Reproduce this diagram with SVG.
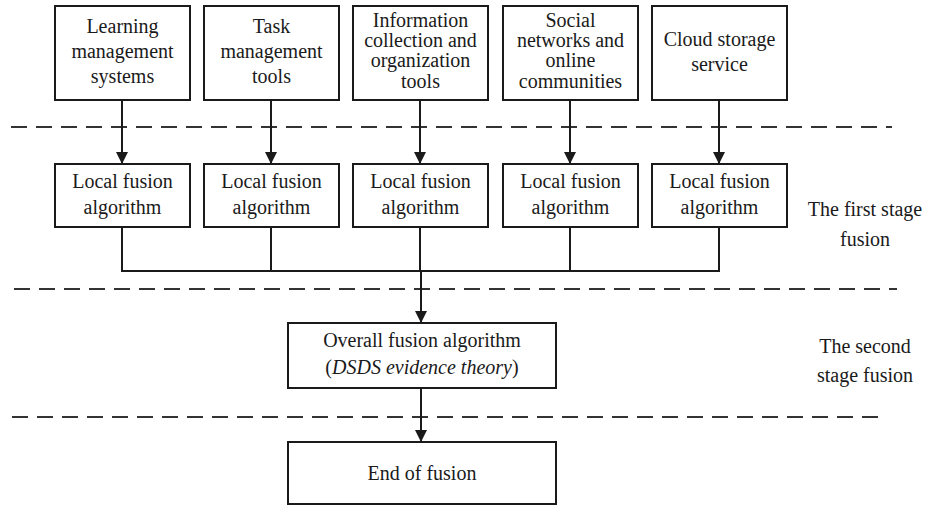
<svg xmlns="http://www.w3.org/2000/svg" width="925" height="506" viewBox="0 0 925 506">
<style>
.box{fill:#fff;stroke:#1a1a1a;stroke-width:2}
.t{font-family:"Liberation Serif","Times New Roman",serif;font-size:20px;fill:#1a1a1a;text-anchor:middle}
.ln{fill:none;stroke:#1a1a1a;stroke-width:2}
.dash{fill:none;stroke:#333;stroke-width:2;stroke-dasharray:16 9}
</style>
<defs>
<marker id="ah" markerUnits="userSpaceOnUse" markerWidth="14" markerHeight="14" refX="12" refY="6" orient="auto">
<path d="M0,0 L12,6 L0,12 Z" fill="#1a1a1a"/>
</marker>
</defs>
<g id="separators">
<line class="dash" x1="11" y1="127" x2="892" y2="127"/>
<line class="dash" x1="14" y1="289" x2="897" y2="289"/>
<line class="dash" x1="12" y1="417" x2="883" y2="417"/>
</g>
<g id="connectors">
<line class="ln" x1="122" y1="100" x2="122" y2="164" marker-end="url(#ah)"/>
<line class="ln" x1="271" y1="100" x2="271" y2="164" marker-end="url(#ah)"/>
<line class="ln" x1="420" y1="100" x2="420" y2="164" marker-end="url(#ah)"/>
<line class="ln" x1="570" y1="100" x2="570" y2="164" marker-end="url(#ah)"/>
<line class="ln" x1="719" y1="100" x2="719" y2="164" marker-end="url(#ah)"/>
<line class="ln" x1="122" y1="227" x2="122" y2="271"/>
<line class="ln" x1="271" y1="227" x2="271" y2="271"/>
<line class="ln" x1="420" y1="227" x2="420" y2="271"/>
<line class="ln" x1="570" y1="227" x2="570" y2="271"/>
<line class="ln" x1="719" y1="227" x2="719" y2="271"/>
<line class="ln" x1="121" y1="271" x2="720" y2="271"/>
<line class="ln" x1="421" y1="271" x2="421" y2="323" marker-end="url(#ah)"/>
<line class="ln" x1="421" y1="388" x2="421" y2="442" marker-end="url(#ah)"/>
</g>
<g id="src1"><rect class="box" x="55" y="6" width="135" height="94"/>
<text class="t" x="122.5" y="33">Learning</text><text class="t" x="122.5" y="58">management</text><text class="t" x="122.5" y="83">systems</text></g>
<g id="src2"><rect class="box" x="204" y="6" width="135" height="94"/>
<text class="t" x="271.5" y="33">Task</text><text class="t" x="271.5" y="58">management</text><text class="t" x="271.5" y="83">tools</text></g>
<g id="src3"><rect class="box" x="353" y="6" width="135" height="94"/>
<text class="t" x="420.5" y="27">Information</text><text class="t" x="420.5" y="47">collection and</text><text class="t" x="420.5" y="67">organization</text><text class="t" x="420.5" y="88">tools</text></g>
<g id="src4"><rect class="box" x="503" y="6" width="135" height="94"/>
<text class="t" x="570.5" y="27">Social</text><text class="t" x="570.5" y="47">networks and</text><text class="t" x="570.5" y="67">online</text><text class="t" x="570.5" y="88">communities</text></g>
<g id="src5"><rect class="box" x="652" y="6" width="135" height="94"/>
<text class="t" x="719.5" y="46">Cloud storage</text><text class="t" x="719.5" y="71">service</text></g>
<g id="lf1"><rect class="box" x="55" y="164" width="135" height="63"/>
<text class="t" x="122.5" y="188">Local fusion</text><text class="t" x="122.5" y="214">algorithm</text></g>
<g id="lf2"><rect class="box" x="204" y="164" width="135" height="63"/>
<text class="t" x="271.5" y="188">Local fusion</text><text class="t" x="271.5" y="214">algorithm</text></g>
<g id="lf3"><rect class="box" x="353" y="164" width="135" height="63"/>
<text class="t" x="420.5" y="188">Local fusion</text><text class="t" x="420.5" y="214">algorithm</text></g>
<g id="lf4"><rect class="box" x="503" y="164" width="135" height="63"/>
<text class="t" x="570.5" y="188">Local fusion</text><text class="t" x="570.5" y="214">algorithm</text></g>
<g id="lf5"><rect class="box" x="652" y="164" width="135" height="63"/>
<text class="t" x="719.5" y="188">Local fusion</text><text class="t" x="719.5" y="214">algorithm</text></g>
<g id="overall"><rect class="box" x="288" y="323" width="268" height="65"/>
<text class="t" x="422" y="347">Overall fusion algorithm</text>
<text class="t" x="422" y="374">(<tspan font-style="italic">DSDS evidence theory</tspan>)</text></g>
<g id="end"><rect class="box" x="288" y="442" width="268" height="62"/>
<text class="t" x="422" y="480">End of fusion</text></g>
<g id="stage1"><text class="t" x="865" y="216">The first stage</text><text class="t" x="865" y="246">fusion</text></g>
<g id="stage2"><text class="t" x="865" y="353">The second</text><text class="t" x="865" y="382">stage fusion</text></g>
</svg>
